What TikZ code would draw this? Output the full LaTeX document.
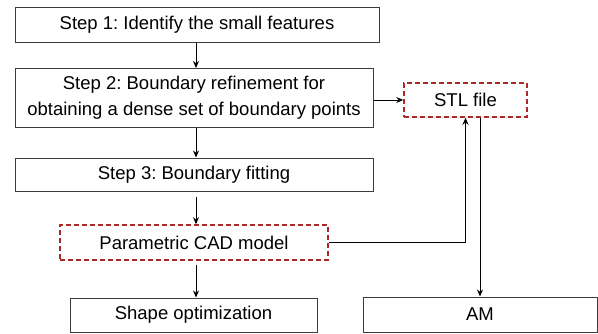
\documentclass[tikz,border=0pt]{standalone}
\usepackage{fontspec}
\setmainfont{Liberation Sans}
\usetikzlibrary{arrows.meta}
\frenchspacing
\definecolor{boxgray}{RGB}{60,60,60}
\definecolor{cadred}{RGB}{172,40,40}
\begin{document}
\begin{tikzpicture}[
    x=1pt, y=-1pt,
    stepbox/.style={draw=boxgray, line width=1pt, inner sep=0pt, font=\fontsize{18.5}{26}\selectfont, align=center},
    dashbox/.style={draw=cadred, dashed, line width=1.5pt, inner sep=0pt, font=\fontsize{18.5}{26}\selectfont, dash pattern=on 5pt off 3pt},
    >={Stealth[length=7pt, width=6pt]}, line width=1pt
]
\useasboundingbox (0,0) rectangle (598,333);

\node[stepbox, minimum width=364pt, minimum height=35pt] (step1) at (197,24.5) {Step 1: Identify the small features};
\node[stepbox, minimum width=358pt, minimum height=59pt] (step2) at (194,98) {Step 2: Boundary refinement for\\obtaining a dense set of boundary points};
\node[stepbox, minimum width=358pt, minimum height=33pt] (step3) at (194,174.5) {Step 3: Boundary fitting};
\node[dashbox, minimum width=268pt, minimum height=35pt] (cad) at (194,242.5) {Parametric CAD model};
\node[stepbox, minimum width=247pt, minimum height=34pt] (shape) at (193.5,315) {Shape optimization};
\node[dashbox, minimum width=123pt, minimum height=34pt] (stl) at (465.5,100) {STL file};
\node[stepbox, minimum width=234pt, minimum height=35pt] (am) at (480,314.5) {AM};

\draw[->] (196,0 |- step1.south) -- (196,0 |- step2.north);
\draw[->] (196,0 |- step2.south) -- (196,0 |- step3.north);
\draw[->, shorten <=5pt] (196,0 |- step3.south) -- (196,0 |- cad.north);
\draw[->, shorten <=4pt] (196,0 |- cad.south) -- (196,0 |- shape.north);

\draw[->] (step2.east |- stl) -- (stl.west);
\draw[->] (cad.east) -- (cad.east -| stl) -- (stl.south);
\draw[->] (am.north |- stl.south) -- (am.north);
\end{tikzpicture}
\end{document}
